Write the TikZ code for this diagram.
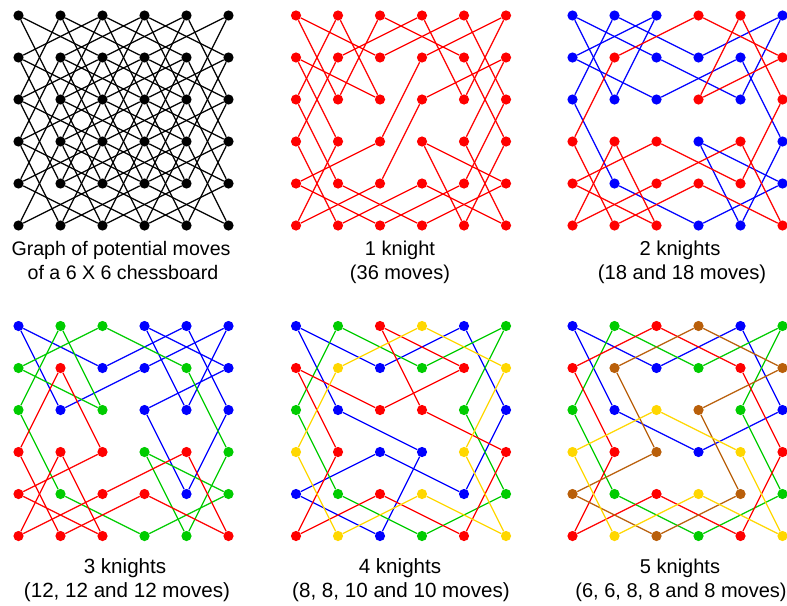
\documentclass[tikz,border=0pt]{standalone}
\usepackage{fontspec}
\setmainfont{Liberation Sans}
\definecolor{kr}{RGB}{255,0,0}
\definecolor{kb}{RGB}{0,0,255}
\definecolor{kg}{RGB}{0,204,0}
\definecolor{ky}{RGB}{255,215,0}
\definecolor{ko}{RGB}{185,95,10}
\definecolor{kk}{RGB}{0,0,0}
\newcommand\mkpanel[4]{%
  \foreach \rr/\qa/\qb/\qc/\qd/\qe/\qf in {#4}{%
    \node[dot,fill=k\qa] (#1-0-\rr) at ({#2},{#3+42*\rr}) {};
    \node[dot,fill=k\qb] (#1-1-\rr) at ({#2+42},{#3+42*\rr}) {};
    \node[dot,fill=k\qc] (#1-2-\rr) at ({#2+84},{#3+42*\rr}) {};
    \node[dot,fill=k\qd] (#1-3-\rr) at ({#2+126},{#3+42*\rr}) {};
    \node[dot,fill=k\qe] (#1-4-\rr) at ({#2+168},{#3+42*\rr}) {};
    \node[dot,fill=k\qf] (#1-5-\rr) at ({#2+210},{#3+42*\rr}) {};
  }}
\newcommand\mkedges[3]{%
  \foreach \ia/\ib/\ic/\id in {#3}{\draw[edge,draw=k#2] (#1-\ia-\ib) -- (#1-\ic-\id);}}
\newcommand\fs[1]{\fontsize{#1}{24}\selectfont}
\begin{document}
\begin{tikzpicture}[x=1pt,y=-1pt,
  dot/.style={circle,inner sep=0pt,minimum size=10.2pt,draw=none},
  edge/.style={line width=1.3pt},
  lbl/.style={anchor=base,inner sep=0pt}]
\useasboundingbox (0,0) rectangle (787,605);
\fill[white] (0,0) rectangle (787,605);

% ---------- panel A: all moves ----------
\mkpanel{A}{18.5}{15.5}{0/k/k/k/k/k/k,1/k/k/k/k/k/k,2/k/k/k/k/k/k,3/k/k/k/k/k/k,4/k/k/k/k/k/k,5/k/k/k/k/k/k}
\foreach \ia in {0,...,5}{\foreach \ib in {0,...,5}{\foreach \da/\db in {1/2,2/1,2/-1,1/-2}{%
  \pgfmathtruncatemacro\na{\ia+\da}\pgfmathtruncatemacro\nb{\ib+\db}%
  \ifnum\na<6 \ifnum\nb>-1 \ifnum\nb<6 \draw[edge,draw=kk] (A-\ia-\ib) -- (A-\na-\nb);\fi\fi\fi}}}

% ---------- panel B: 1 knight ----------
\mkpanel{B}{296}{15.5}{0/r/r/r/r/r/r,1/r/r/r/r/r/r,2/r/r/r/r/r/r,3/r/r/r/r/r/r,4/r/r/r/r/r/r,5/r/r/r/r/r/r}
\mkedges{B}{r}{0/0/2/1, 0/0/1/2, 1/0/0/2, 1/0/2/2, 2/0/1/2, 2/0/4/1, 3/0/1/1, 3/0/4/2, 4/0/2/1, 4/0/5/2, 5/0/3/1, 5/0/4/2, 0/1/2/2, 0/1/1/3, 1/1/0/3, 3/1/2/3, 4/1/5/3, 5/1/3/2, 5/1/4/3, 0/2/1/4, 3/2/2/4, 5/2/4/4, 0/3/1/5, 1/3/0/5, 2/3/0/4, 3/3/5/4, 3/3/4/5, 4/3/5/5, 5/3/4/5, 0/4/2/5, 1/4/3/5, 2/4/0/5, 3/4/1/5, 3/4/5/5, 4/4/2/5, 5/4/3/5}

% ---------- panel C: 2 knights ----------
\mkpanel{C}{572.5}{15.5}{0/b/b/b/r/r/b,1/b/r/b/b/b/r,2/b/b/b/r/b/r,3/r/r/r/b/r/b,4/r/b/r/r/r/b,5/r/r/r/b/b/r}
\mkedges{C}{b}{0/0/2/1, 0/0/1/2, 1/0/0/2, 1/0/3/1, 2/0/0/1, 2/0/1/2, 5/0/3/1, 5/0/4/2, 0/1/2/2, 2/1/4/2, 4/1/2/2, 4/1/5/3, 0/2/1/4, 3/3/5/4, 3/3/4/5, 5/3/4/5, 1/4/3/5, 5/4/3/5}
\mkedges{C}{r}{3/0/1/1, 3/0/5/1, 4/0/3/2, 4/0/5/2, 1/1/0/3, 5/1/3/2, 5/2/4/4, 0/3/1/5, 1/3/0/5, 1/3/2/5, 2/3/0/4, 2/3/4/4, 4/3/2/4, 4/3/5/5, 0/4/2/5, 2/4/0/5, 3/4/1/5, 3/4/5/5}

% ---------- panel D: 3 knights ----------
\mkpanel{D}{18.5}{326}{0/b/g/g/b/b/b,1/g/r/b/b/g/b,2/g/b/g/b/b/b,3/r/r/r/g/r/g,4/r/g/r/r/b/g,5/r/r/r/g/g/r}
\mkedges{D}{b}{0/0/2/1, 0/0/1/2, 3/0/4/2, 3/0/5/1, 4/0/2/1, 4/0/5/2, 5/0/3/1, 5/0/4/2, 3/1/1/2, 5/1/3/2, 3/2/4/4, 5/2/4/4}
\mkedges{D}{g}{1/0/0/2, 1/0/2/2, 2/0/0/1, 2/0/4/1, 0/1/2/2, 4/1/5/3, 0/2/1/4, 3/3/5/4, 3/3/4/5, 5/3/4/5, 1/4/3/5, 5/4/3/5}
\mkedges{D}{r}{1/1/0/3, 1/1/2/3, 0/3/1/5, 1/3/0/5, 1/3/2/5, 2/3/0/4, 4/3/2/4, 4/3/5/5, 0/4/2/5, 2/4/0/5, 3/4/1/5, 3/4/5/5}

% ---------- panel E: 4 knights ----------
\mkpanel{E}{296}{326}{0/b/g/r/y/b/g,1/r/y/b/g/r/y,2/g/b/r/r/g/b,3/y/r/b/b/y/r,4/b/g/r/y/b/g,5/r/y/b/g/r/y}
\mkedges{E}{b}{0/0/2/1, 0/0/1/2, 4/0/2/1, 4/0/5/2, 1/2/3/3, 5/2/4/4, 2/3/0/4, 2/3/4/4, 3/3/2/5, 0/4/2/5}
\mkedges{E}{g}{1/0/0/2, 1/0/3/1, 5/0/3/1, 5/0/4/2, 0/2/1/4, 4/2/5/4, 1/4/3/5, 5/4/3/5}
\mkedges{E}{r}{2/0/4/1, 2/0/3/2, 0/1/2/2, 0/1/1/3, 4/1/2/2, 3/2/5/3, 1/3/0/5, 5/3/4/5, 2/4/0/5, 2/4/4/5}
\mkedges{E}{y}{3/0/1/1, 3/0/5/1, 1/1/0/3, 5/1/4/3, 0/3/1/5, 4/3/5/5, 3/4/1/5, 3/4/5/5}

% ---------- panel F: 5 knights ----------
\mkpanel{F}{572.5}{326}{0/b/g/r/o/b/g,1/r/o/b/g/r/o,2/g/b/y/o/g/b,3/y/r/o/b/y/r,4/o/g/r/y/o/g,5/r/y/o/g/r/y}
\mkedges{F}{b}{0/0/2/1, 0/0/1/2, 4/0/2/1, 4/0/5/2, 1/2/3/3, 5/2/3/3}
\mkedges{F}{g}{1/0/0/2, 1/0/3/1, 5/0/3/1, 5/0/4/2, 0/2/1/4, 4/2/5/4, 1/4/3/5, 5/4/3/5}
\mkedges{F}{r}{2/0/0/1, 2/0/4/1, 0/1/1/3, 4/1/5/3, 1/3/0/5, 5/3/4/5, 2/4/0/5, 2/4/4/5}
\mkedges{F}{o}{3/0/1/1, 3/0/5/1, 1/1/2/3, 5/1/3/2, 3/2/4/4, 2/3/0/4, 0/4/2/5, 4/4/2/5}
\mkedges{F}{y}{2/2/0/3, 2/2/4/3, 0/3/1/5, 4/3/5/5, 3/4/1/5, 3/4/5/5}

% ---------- labels ----------
\node[lbl,font=\fs{19.6}] (la1) at (121,255) {Graph of potential moves};
\node[lbl,font=\fs{19.6}] (la2) at (123,279) {of a 6 X 6 chessboard};
\node[lbl,font=\fs{20}] (lb1) at (400,255) {1 knight};
\node[lbl,font=\fs{20}] (lb2) at (400,279) {(36 moves)};
\node[lbl,font=\fs{20.2}] (lc1) at (680,255) {2 knights};
\node[lbl,font=\fs{20.2}] (lc2) at (682,279) {(18 and 18 moves)};
\node[lbl,font=\fs{20.6}] (ld1) at (125,573) {3 knights};
\node[lbl,font=\fs{20.6}] (ld2) at (127,597) {(12, 12 and 12 moves)};
\node[lbl,font=\fs{20.6}] (le1) at (400,573) {4 knights};
\node[lbl,font=\fs{20.6}] (le2) at (401,597) {(8, 8, 10 and 10 moves)};
\node[lbl,font=\fs{20}] (lf1) at (680,573) {5 knights};
\node[lbl,font=\fs{20}] (lf2) at (681,597) {(6, 6, 8, 8 and 8 moves)};
\end{tikzpicture}
\end{document}
